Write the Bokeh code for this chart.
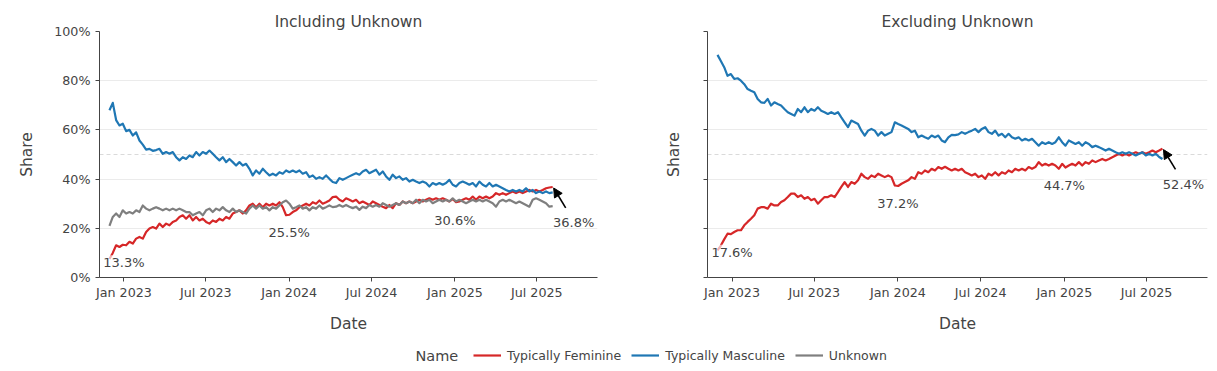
import pandas as pd
from bokeh.plotting import figure
from bokeh.layouts import column, row
from bokeh.core.properties import value
from bokeh.models import (Range1d, FixedTicker, DatetimeTickFormatter, Span, Arrow, NormalHead,
                          ColumnDataSource, LabelSet, Legend, LegendItem, Label)
from bokeh.embed import file_html
from bokeh.resources import INLINE

# ---------------- data ----------------
start_date = "2022-11-30"
end_date = "2025-08-05"

# Including Unknown (share, %)
red_inc = [
    7.5, 10.0, 13.1, 12.4, 13.3, 13.1, 14.5, 13.8, 15.8, 16.5,
    15.8, 18.5, 19.9, 20.5, 19.9, 21.9, 20.5, 21.9, 21.2, 22.6,
    23.2, 24.6, 25.3, 23.9, 25.3, 23.2, 24.6, 23.2, 23.9, 22.6,
    21.9, 23.2, 22.6, 23.9, 23.2, 24.6, 23.9, 26.0, 26.6, 27.3,
    26.0, 27.3, 29.3, 30.0, 28.6, 30.0, 28.6, 30.0, 29.3, 30.0,
    29.3, 30.6, 28.6, 25.3, 25.5, 26.6, 27.3, 28.6, 29.3, 30.0,
    29.3, 30.6, 30.0, 31.3, 30.0, 30.6, 31.3, 32.7,
    32.9, 31.6, 30.9, 32.2, 31.6, 30.9, 31.6, 30.2, 30.9, 30.2,
    29.5, 30.9, 30.2, 29.5, 28.8, 28.2, 29.5, 28.2, 30.2, 29.5,
    30.9, 30.2, 30.9, 30.2, 30.9, 31.6, 30.9, 31.6, 32.2, 31.6,
    32.2, 31.6, 32.2, 31.6, 30.9, 31.9, 30.6, 30.9, 31.6, 32.2,
    31.6, 32.9, 31.6, 32.9, 32.2, 32.9, 32.2, 32.9, 34.3, 33.6,
    34.3, 33.6, 34.3, 35.0, 34.3, 35.0, 34.3, 35.0, 35.6, 35.0,
    35.6, 35.0, 35.6, 36.3, 36.6, 36.8,
]
blue_inc = [
    68.0, 71.0, 64.0, 61.8, 62.5, 59.5, 60.0, 57.7, 59.0, 55.7,
    54.0, 52.0, 52.3, 51.5, 51.8, 52.3, 50.3, 51.0, 50.3, 51.0,
    48.9, 47.6, 48.9, 48.2, 49.6, 48.9, 51.0, 49.6, 51.0, 50.3,
    51.6, 50.3, 48.9, 47.6, 48.9, 46.9, 48.2, 46.9, 45.5, 46.9,
    45.5, 46.2, 44.2, 41.5, 43.5, 42.2, 44.2, 42.8, 41.5, 42.2,
    41.5, 42.8, 42.2, 43.5, 42.8, 43.5, 42.8, 43.5, 42.2, 42.8,
    40.8, 41.5, 40.1, 40.8, 40.1, 41.5, 40.1, 38.8,
    38.4, 40.4, 39.7, 40.4, 41.1, 41.8, 42.4, 41.8, 43.1, 43.8,
    42.4, 43.1, 43.8, 41.8, 43.1, 41.1, 39.7, 41.8, 40.4, 41.1,
    39.7, 40.4, 39.0, 39.7, 39.0, 38.4, 39.0, 38.4, 37.0, 38.4,
    37.7, 38.4, 37.7, 38.4, 39.7, 37.7, 37.0, 38.4, 39.0, 38.4,
    37.7, 38.4, 37.0, 39.0, 37.7, 37.0, 38.4, 37.0, 37.7, 37.0,
    36.3, 35.6, 35.0, 35.6, 35.0, 35.6, 35.0, 36.3, 35.0, 35.6,
    34.3, 35.0, 34.3, 35.0, 34.3, 34.6,
]
gray_inc = [
    21.0, 24.6, 26.0, 24.6, 27.3, 26.0, 26.6, 26.0, 27.3, 26.6,
    29.3, 28.0, 27.3, 28.0, 28.6, 28.0, 27.3, 28.0, 27.3, 28.0,
    27.3, 28.0, 27.3, 26.6, 26.6, 25.3, 26.0, 26.6, 25.3, 27.3,
    28.0, 26.6, 28.0, 27.3, 28.6, 27.3, 26.6, 28.0, 26.6, 27.3,
    26.6, 26.0, 28.0, 29.3, 28.0, 29.3, 28.0, 28.6, 27.3, 28.6,
    28.0, 29.3, 30.6, 31.3, 30.0, 28.0, 28.6, 29.3, 28.0, 28.6,
    27.3, 28.6, 28.0, 29.3, 28.0, 28.6, 29.3, 28.6,
    28.8, 29.5, 28.8, 29.5, 28.8, 28.2, 28.8, 27.5, 28.8, 28.2,
    29.5, 28.8, 29.5, 28.8, 30.2, 29.5, 28.8, 29.5, 30.2, 29.5,
    30.9, 30.2, 30.9, 30.2, 31.6, 30.2, 31.6, 30.9, 31.6, 30.2,
    30.9, 31.6, 30.9, 31.6, 30.9, 32.2, 30.9, 31.6, 30.9, 30.2,
    30.9, 31.6, 30.9, 31.6, 30.9, 31.6, 30.9, 30.2, 28.8, 30.9,
    31.6, 30.9, 31.6, 30.9, 30.2, 30.9, 30.2, 29.5, 28.8, 31.6,
    32.2, 31.6, 30.9, 30.2, 28.8, 29.0,
]

# Excluding Unknown (share, %)
red_exc = [
    11.0, 13.0, 15.5, 17.8, 17.6, 18.5, 19.2, 19.2, 21.2, 22.6,
    23.9, 25.3, 28.0, 28.6, 28.6, 28.0, 30.0, 29.3, 29.3, 30.7,
    31.4, 32.7, 34.1, 34.1, 32.7, 33.4, 32.0, 32.7, 31.4, 32.0,
    30.0, 31.4, 32.7, 32.7, 33.4, 32.7, 34.7, 36.8, 38.8, 36.8,
    38.8, 38.1, 39.5, 42.2, 40.8, 40.1, 41.5, 40.8, 42.2, 41.5,
    40.8, 41.5, 40.8, 37.4, 37.2, 38.1, 38.8, 39.5, 40.8, 40.1,
    42.8, 42.2, 43.5, 42.8, 44.2, 43.5, 44.9, 44.2, 45.0,
    44.2, 43.5, 44.2, 43.5, 44.2, 42.8, 42.2, 41.5, 42.2, 40.8,
    41.5, 40.1, 42.2, 41.5, 42.8, 41.5, 42.8, 42.2, 43.5, 42.8,
    44.2, 43.5, 44.2, 43.5, 44.9, 44.2, 44.9, 46.9, 45.5, 46.2,
    45.5, 46.2, 45.5, 44.2, 46.2, 44.7, 45.5, 46.2, 45.5, 46.9,
    45.5, 46.9, 46.2, 47.6, 46.9, 47.6, 48.2, 47.6, 48.2, 48.9,
    49.6, 50.3, 49.6, 50.3, 49.6, 50.3, 50.9, 50.3, 50.9, 50.3,
    50.9, 51.6, 50.9, 51.6, 52.4,
]
blue_exc = [
    90.5, 88.0, 85.5, 82.0, 82.7, 80.7, 81.0, 80.0, 78.6, 76.6,
    75.9, 75.3, 72.6, 71.2, 71.0, 72.6, 69.9, 71.2, 70.5, 69.9,
    68.5, 67.2, 66.5, 65.8, 68.5, 67.2, 69.2, 67.2, 68.5, 67.8,
    69.2, 67.8, 67.2, 66.5, 67.2, 66.5, 67.2, 65.1, 63.1, 61.1,
    63.8, 63.1, 62.4, 59.7, 57.7, 59.7, 60.4, 59.7, 57.7, 59.1,
    57.7, 58.4, 59.1, 63.1, 62.4, 61.8, 61.1, 60.4, 59.1, 59.7,
    57.0, 57.7, 57.0, 56.4, 57.7, 57.0, 57.7, 55.7, 55.0,
    57.0, 58.0, 57.9, 58.2, 59.1, 58.4, 59.1, 59.7, 60.4, 59.1,
    60.4, 61.1, 59.1, 58.4, 59.7, 57.7, 58.4, 57.0, 58.4, 57.0,
    56.4, 57.0, 55.7, 56.4, 55.7, 56.4, 55.0, 53.6, 55.0, 54.3,
    55.0, 54.3, 55.0, 57.0, 55.0, 53.6, 55.7, 55.0, 54.3, 55.0,
    53.6, 55.0, 54.3, 53.0, 53.6, 53.0, 52.3, 51.6, 52.3, 51.6,
    50.9, 50.3, 50.9, 50.3, 50.9, 50.3, 49.6, 50.3, 50.9, 49.6,
    50.3, 49.6, 50.3, 49.0, 48.2,
]

series_names = ["Typically Feminine", "Typically Masculine", "Unknown"]
series_colors = ["#d62728", "#1f77b4", "#7f7f7f"]
legend_title = "Name"

ann_dates = ["2023-01-01", "2024-01-01", "2025-01-01"]
ann_inc = [13.3, 25.5, 30.6]
ann_exc = [17.6, 37.2, 44.7]
end_inc = 36.8
end_exc = 52.4

x_tick_dates = ["2023-01-01", "2023-07-01", "2024-01-01", "2024-07-01", "2025-01-01", "2025-07-01"]
y_tick_values = [0, 20, 40, 60, 80, 100]
y_tick_labels = ["0%", "20%", "40%", "60%", "80%", "100%"]
x_range_dates = ["2022-11-08", "2025-11-12"]

for s in (red_inc, blue_inc, gray_inc, red_exc, blue_exc):
    assert len(s) == len(red_inc), len(s)

dates = pd.date_range(start_date, end_date, periods=len(red_inc))

FONT = "DejaVu Sans"
TXT = "#444444"


def ms(d):
    return pd.Timestamp(d).value / 1e6


def make_panel(title, width, border_left, border_right, series, ann_vals, end_val,
               show_y_labels, y_label_standoff):
    frame_w = width - border_left - border_right
    frame_h = 248
    x0, x1 = ms(x_range_dates[0]), ms(x_range_dates[1])
    p = figure(width=width, height=335, x_axis_type="datetime",
               x_range=Range1d(x0, x1), y_range=Range1d(0, 100),
               output_backend="svg", toolbar_location=None,
               min_border_left=border_left, min_border_right=border_right,
               min_border_top=31, min_border_bottom=56,
               background_fill_color="white", border_fill_color="white",
               outline_line_color=None, title=title)
    p.title.align = "center"
    p.title.text_font = FONT
    p.title.text_font_size = "15.5px"
    p.title.text_font_style = "normal"
    p.title.text_color = TXT
    p.title.standoff = 2

    for ax in (p.xaxis[0], p.yaxis[0]):
        ax.axis_line_color = TXT
        ax.axis_line_width = 1
        ax.major_tick_line_color = TXT
        ax.major_tick_out = 4
        ax.major_tick_in = 0
        ax.minor_tick_line_color = None
        ax.major_label_text_font = FONT
        ax.major_label_text_font_size = "12.7px"
        ax.major_label_text_color = TXT
        ax.axis_label_text_font = FONT
        ax.axis_label_text_font_size = "15.5px"
        ax.axis_label_text_font_style = "normal"
        ax.axis_label_text_color = TXT

    p.xaxis.ticker = FixedTicker(ticks=[ms(d) for d in x_tick_dates])
    p.xaxis.formatter = DatetimeTickFormatter(days="%b %Y", months="%b %Y", years="%b %Y")
    p.xaxis.major_label_standoff = 3
    p.xaxis.axis_label = "Date"
    p.xaxis.axis_label_standoff = 12

    p.yaxis.ticker = FixedTicker(ticks=y_tick_values)
    if show_y_labels:
        p.yaxis.major_label_overrides = {v: l for v, l in zip(y_tick_values, y_tick_labels)}
    else:
        p.yaxis.major_label_overrides = {v: "" for v in y_tick_values}
    p.yaxis.major_label_standoff = 5
    p.yaxis.axis_label = "Share"
    p.yaxis.axis_label_standoff = y_label_standoff

    p.xgrid.grid_line_color = None
    p.ygrid.ticker = FixedTicker(ticks=y_tick_values[1:-1])
    p.ygrid.grid_line_color = "#ebebeb"
    p.ygrid.grid_line_width = 1

    p.add_layout(Span(location=50, dimension="width", line_color="#dadada",
                      line_dash="4 3", line_width=1, level="underlay"))

    for vals, color in series:
        p.line(dates, vals, line_color=color, line_width=2.2, line_join="round")

    src = ColumnDataSource(dict(x=[ms(d) for d in ann_dates], y=ann_vals,
                                t=[f"{v:.1f}%" for v in ann_vals]))
    p.add_layout(LabelSet(x="x", y="y", text="t", source=src, y_offset=-18,
                          text_align="center", text_baseline="middle",
                          text_font=value(FONT), text_font_size=value("13px"),
                          text_color=value(TXT),
                          background_fill_color="white", background_fill_alpha=0.65))

    xe = ms(dates[-1])
    ms_per_px = (x1 - x0) / frame_w
    pct_per_px = 100.0 / frame_h
    p.add_layout(Arrow(end=NormalHead(size=9, fill_color="black", line_color="black"),
                       x_start=xe + 13 * ms_per_px, y_start=end_val - 21 * pct_per_px,
                       x_end=xe + 1 * ms_per_px, y_end=end_val - 1 * pct_per_px,
                       line_color="black", line_width=1.6))
    src2 = ColumnDataSource(dict(x=[xe], y=[end_val], t=[f"{end_val:.1f}%"]))
    p.add_layout(LabelSet(x="x", y="y", text="t", source=src2, x_offset=21, y_offset=-36,
                          text_align="center", text_baseline="middle",
                          text_font=value(FONT), text_font_size=value("13px"),
                          text_color=value(TXT)))
    return p


p1 = make_panel("Including Unknown", 616, 99, 19,
                [(red_inc, series_colors[0]), (blue_inc, series_colors[1]), (gray_inc, series_colors[2])],
                ann_inc, end_inc, True, 15)
p2 = make_panel("Excluding Unknown", 601, 91, 10,
                [(red_exc, series_colors[0]), (blue_exc, series_colors[1])],
                ann_exc, end_exc, False, 21)

# legend strip
pl = figure(width=1217, height=36, output_backend="svg", toolbar_location=None,
            x_range=Range1d(0, 1), y_range=Range1d(0, 1),
            x_axis_location=None, y_axis_location=None,
            min_border=0, outline_line_color=None,
            background_fill_color="white", border_fill_color="white")
pl.xgrid.grid_line_color = None
pl.ygrid.grid_line_color = None
items = []
for name, color in zip(series_names, series_colors):
    # off-range dummy renderer, only used to draw the legend swatch
    r = pl.line(x=[-10, -9], y=[-10, -9], line_color=color, line_width=2.2)
    items.append(LegendItem(label=name, renderers=[r]))
legend = Legend(items=items, orientation="horizontal", location=(473, 8),
                glyph_width=28, glyph_height=16, label_height=16, label_standoff=6,
                spacing=10, padding=0, margin=0, border_line_color=None,
                background_fill_alpha=0, label_text_font=FONT,
                label_text_font_size="12.5px", label_text_color=TXT)
pl.add_layout(legend)
pl.add_layout(Label(x=415, y=16, x_units="screen", y_units="screen", text=legend_title,
                    text_baseline="middle", text_font=FONT, text_font_size="14.5px",
                    text_color=TXT))

layout = column(row(p1, p2), pl)
open("out.html", "w").write(file_html(layout, INLINE))
